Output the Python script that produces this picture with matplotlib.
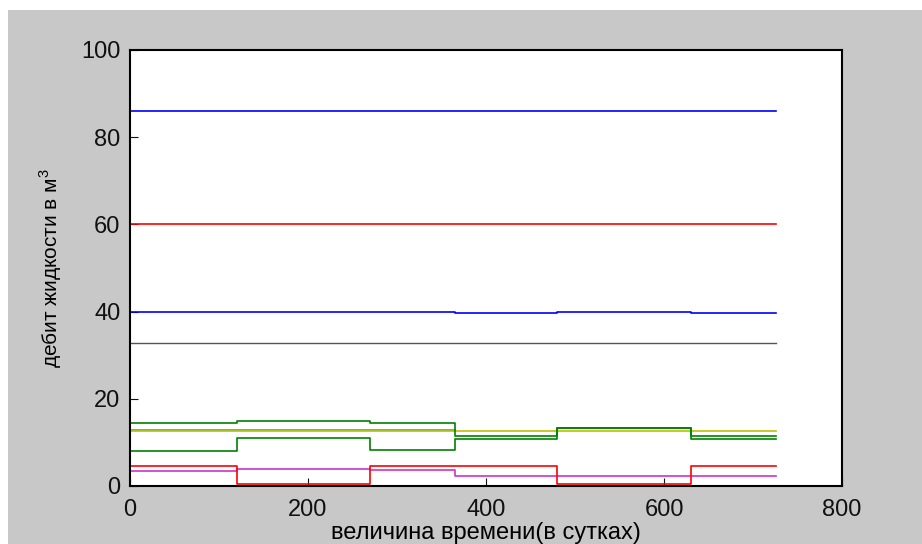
import matplotlib.pyplot as plt
from matplotlib.patches import Rectangle

plt.rcParams['font.family'] = ['Liberation Sans', 'DejaVu Sans']
plt.rcParams['mathtext.fontset'] = 'custom'
plt.rcParams['mathtext.rm'] = 'Liberation Sans'

# Breakpoints in days (step functions, value holds until next point)
t = [0, 120, 270, 365, 480, 630, 726]

# Liquid flow rate per well, m3 (last value repeated to close the step)
blue_top = [86, 86, 86, 86, 86, 86, 86]
red_top = [60.2, 60.2, 60.2, 60.2, 60.2, 60.2, 60.2]
blue_mid = [40, 40, 40, 39.6, 40, 39.6, 39.6]
black = [32.9, 32.9, 32.9, 32.9, 32.9, 32.9, 32.9]
green_a = [14.4, 14.9, 14.4, 11.4, 13.4, 11.4, 11.4]
yellow = [12.6, 12.6, 12.6, 12.6, 12.6, 12.6, 12.6]
green_b = [8.1, 11.1, 8.2, 10.8, 13.2, 10.8, 10.8]
red_low = [4.5, 0.5, 4.5, 4.5, 0.5, 4.5, 4.5]
magenta = [3.4, 4.0, 3.7, 2.2, 2.2, 2.2, 2.2]

# cyan well only until day 365
t_cyan = [0, 365]
cyan = [12.9, 12.9]

fig = plt.figure(figsize=(9.22, 5.44), dpi=100)
fig.patch.set_facecolor('white')
fig.patches.append(Rectangle((8 / 922, 0), 1, 1 - 10 / 544, transform=fig.transFigure,
                             facecolor='#c8c8c8', edgecolor='none', zorder=-10))

ax = fig.add_axes([130 / 922, 1 - 486 / 544, (842 - 130) / 922, (486 - 50) / 544])
ax.set_facecolor('white')

ax.plot(t, blue_top, color='#0000ff', lw=1.2, drawstyle='steps-post')
ax.plot(t, red_top, color='#ff0000', lw=1.2, drawstyle='steps-post')
ax.plot(t, blue_mid, color='#0000ff', lw=1.2, drawstyle='steps-post')
ax.plot(t, black, color='#555555', lw=1.0, drawstyle='steps-post')
ax.plot(t_cyan, cyan, color='#00bfbf', lw=1.2, drawstyle='steps-post')
ax.plot(t, yellow, color='#bfbf00', lw=1.2, drawstyle='steps-post')
ax.plot(t, green_a, color='#008000', lw=1.2, drawstyle='steps-post')
ax.plot(t, green_b, color='#008000', lw=1.2, drawstyle='steps-post')
ax.plot(t, magenta, color='#cc33cc', lw=1.2, drawstyle='steps-post')
ax.plot(t, red_low, color='#ff0000', lw=1.2, drawstyle='steps-post')

ax.set_xlim(0, 800)
ax.set_ylim(0, 100)
ax.set_xticks([0, 200, 400, 600, 800])
ax.set_yticks([0, 20, 40, 60, 80, 100])
ax.tick_params(direction='in', length=6, labelsize=17, colors='#111111', pad=9)
ax.tick_params(axis='y', pad=7)
for s in ax.spines.values():
    s.set_linewidth(1.5)

ax.set_xlabel('величина времени(в сутках)', fontsize=17, labelpad=1)
ax.set_ylabel('дебит жидкости в м$^{3}$', fontsize=15, labelpad=12)

plt.savefig('out.png', dpi=100, facecolor=fig.get_facecolor())
